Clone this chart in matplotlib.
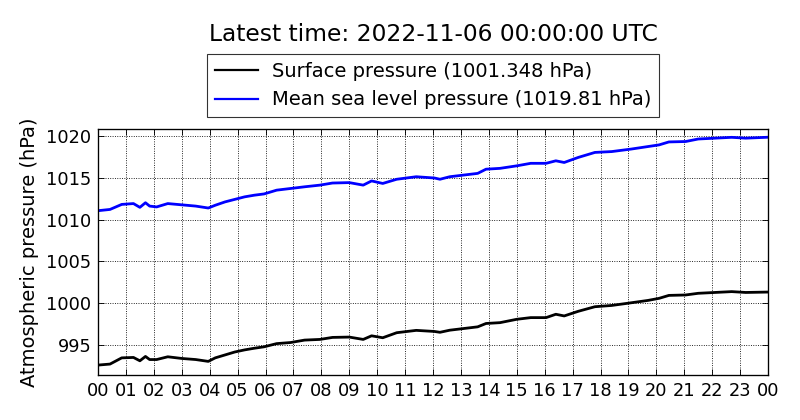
import matplotlib
matplotlib.use("Agg")
import matplotlib.pyplot as plt
from matplotlib.lines import Line2D

hours = [0, 0.43, 0.85, 1.27, 1.5, 1.7, 1.85, 2.1, 2.5, 3.0,
         3.5, 3.95, 4.2, 4.55, 4.9, 5.25, 5.6, 5.95, 6.4, 6.9,
         7.4, 7.95, 8.4, 9.0, 9.5, 9.8, 10.2, 10.7, 11.4, 12.05,
         12.25, 12.6, 13.1, 13.6, 13.9, 14.4, 15.0, 15.5, 16.05, 16.4,
         16.7, 17.2, 17.8, 18.4, 19.1, 19.7, 20.1, 20.45, 21.05, 21.5,
         22.1, 22.7, 23.2, 24.0]

surface = [992.64, 992.76, 993.5, 993.55, 993.15, 993.67, 993.3, 993.3, 993.63, 993.43,
           993.3, 993.08, 993.5, 993.85, 994.2, 994.45, 994.65, 994.82, 995.2, 995.33,
           995.62, 995.7, 995.94, 995.98, 995.7, 996.13, 995.9, 996.5, 996.78, 996.65,
           996.55, 996.8, 997.0, 997.2, 997.6, 997.7, 998.1, 998.3, 998.3, 998.7,
           998.5, 999.05, 999.6, 999.75, 1000.07, 1000.35, 1000.6, 1000.95, 1001.0, 1001.2,
           1001.3, 1001.4, 1001.3, 1001.348]

msl = [1011.05, 1011.2, 1011.8, 1011.9, 1011.45, 1012.0, 1011.6, 1011.5, 1011.9, 1011.75,
       1011.6, 1011.37, 1011.7, 1012.1, 1012.4, 1012.7, 1012.9, 1013.05, 1013.5, 1013.7,
       1013.9, 1014.1, 1014.35, 1014.4, 1014.1, 1014.6, 1014.3, 1014.8, 1015.1, 1014.95,
       1014.8, 1015.1, 1015.3, 1015.5, 1016.0, 1016.1, 1016.4, 1016.7, 1016.7, 1017.0,
       1016.8, 1017.4, 1018.0, 1018.1, 1018.4, 1018.7, 1018.9, 1019.25, 1019.3, 1019.6,
       1019.7, 1019.8, 1019.7, 1019.81]

xtick_labels = ["00", "01", "02", "03", "04", "05", "06", "07", "08", "09", "10", "11",
                "12", "13", "14", "15", "16", "17", "18", "19", "20", "21", "22", "23", "00"]
ytick_values = [995, 1000, 1005, 1010, 1015, 1020]

title = "Latest time: 2022-11-06 00:00:00 UTC"
label_surface = "Surface pressure (1001.348 hPa)"
label_msl = "Mean sea level pressure (1019.81 hPa)"

plt.rcParams['font.family'] = ['DejaVu Sans']

fig = plt.figure(figsize=(10, 5.25), dpi=80)
ax = fig.add_axes([0.1225, 0.107, 0.8375, 0.586])

ax.plot(hours, surface, color='black', lw=2.5)
ax.plot(hours, msl, color='blue', lw=2.5)

ax.set_xlim(0, 24)
ax.set_ylim(991.45, 1020.8)
ax.set_xticks(range(25))
ax.set_xticklabels(xtick_labels)
ax.set_yticks(ytick_values)
ax.tick_params(direction='in', top=True, right=True, length=5, labelsize=16, pad=6)
ax.grid(True, linestyle=':', color='black', lw=0.8)
ax.set_ylabel("Atmospheric pressure (hPa)", fontsize=17.5, labelpad=6)
for s in ax.spines.values():
    s.set_linewidth(1.2)

handles = [Line2D([], [], color='black', lw=2), Line2D([], [], color='blue', lw=2)]
leg = ax.legend(handles, [label_surface, label_msl], loc='lower center',
                bbox_to_anchor=(0.5, 1.0476), fontsize=17.5, frameon=True, fancybox=False,
                borderaxespad=0, handlelength=2.2, handletextpad=0.7,
                labelspacing=0.5, borderpad=0.4)
leg.get_frame().set_edgecolor('black')
leg.get_frame().set_linewidth(1.0)

fig.text(0.5413, 0.919, title, ha='center', va='center', fontsize=21)

fig.savefig("out.png", dpi=80, facecolor='white')
